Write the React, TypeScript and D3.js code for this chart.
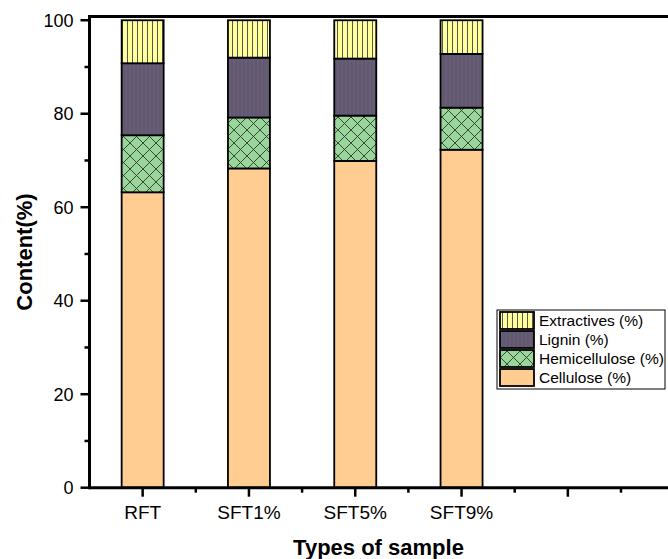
import React from "react";
import * as d3 from "d3";

const categories = ["RFT", "SFT1%", "SFT5%", "SFT9%"];
const slotCount = 6;
const cellulose = [63.2, 68.3, 69.9, 72.3];
const hemicellulose = [12.2, 10.9, 9.7, 9.0];
const lignin = [15.4, 12.8, 12.2, 11.5];
const extractives = [9.2, 8.0, 8.2, 7.2];
const seriesNames = ["Cellulose (%)", "Hemicellulose (%)", "Lignin (%)", "Extractives (%)"];
const yTicks = [0, 20, 40, 60, 80, 100];
const yMinor = [10, 30, 50, 70, 90];

const W = 668, H = 559;
const left = 89.5, top = 16.5, bottom = 487.7;
const slot = 106.3;
const font = "Arial, 'Liberation Sans', sans-serif";

export default function App() {
  const x = d3.scaleLinear().domain([0.5, slotCount + 0.5]).range([left, left + slotCount * slot]);
  const y = d3.scaleLinear().domain([0, 100.8]).range([bottom, top]);
  const barW = 42;
  const seriesData = [cellulose, hemicellulose, lignin, extractives];
  const fills = ["#FFCC92", "url(#hatchX)", "url(#lignPat)", "url(#extrPat)"];
  const table = categories.map((c, i) => {
    const o: any = { cat: c };
    seriesNames.forEach((s, j) => (o[s] = seriesData[j][i]));
    return o;
  });
  const stacked = d3.stack().keys(seriesNames)(table);
  const majorX = d3.range(1, slotCount + 1);
  const minorX = d3.range(1, slotCount).map((v) => v + 0.5);
  const legendOrder = [3, 2, 1, 0];
  const lgX = 497, lgY = 310, rowH = 19;

  return (
    <svg width={W} height={H} style={{ position: "absolute", left: 0, top: 0 }}>
      <defs>
        <pattern id="extrPat" patternUnits="userSpaceOnUse" width="5" height="10">
          <rect width="5" height="10" fill="#FFFF99" />
          <line x1="2.5" y1="0" x2="2.5" y2="10" stroke="#555" strokeWidth="1" />
        </pattern>
        <pattern id="lignPat" patternUnits="userSpaceOnUse" width="4" height="10">
          <rect width="4" height="10" fill="#625870" />
          <line x1="2" y1="0" x2="2" y2="10" stroke="#6C627A" strokeWidth="1" />
        </pattern>
        <pattern id="hatchX" patternUnits="userSpaceOnUse" width="13" height="13">
          <rect width="13" height="13" fill="#9AD69C" />
          <line x1="0" y1="0" x2="13" y2="13" stroke="#2a3a2a" strokeWidth="0.9" />
          <line x1="13" y1="0" x2="0" y2="13" stroke="#2a3a2a" strokeWidth="0.9" />
        </pattern>
      </defs>
      <rect width={W} height={H} fill="#fff" />
      {stacked.map((s, j) =>
        s.map((d, i) => (
          <rect
            key={`${j}-${i}`}
            x={x(i + 1) - barW / 2}
            y={y(d[1])}
            width={barW}
            height={y(d[0]) - y(d[1])}
            fill={fills[j]}
            stroke="#000"
            strokeWidth={1.8}
          />
        ))
      )}
      {/* axes */}
      <line x1={left} y1={top} x2={W + 5} y2={top} stroke="#000" strokeWidth={3} />
      <line x1={left} y1={top - 1.5} x2={left} y2={bottom + 1.5} stroke="#000" strokeWidth={3} />
      <line x1={left} y1={bottom} x2={W + 5} y2={bottom} stroke="#000" strokeWidth={3} />
      {yTicks.map((t) => (
        <g key={t}>
          <line x1={left - 9} x2={left} y1={y(t)} y2={y(t)} stroke="#000" strokeWidth={2.5} />
          <text x={left - 16} y={y(t)} dy="0.35em" textAnchor="end" fontFamily={font} fontSize={18}>
            {t}
          </text>
        </g>
      ))}
      {yMinor.map((t) => (
        <line key={t} x1={left - 5} x2={left} y1={y(t)} y2={y(t)} stroke="#000" strokeWidth={2.5} />
      ))}
      {majorX.map((k) => (
        <line key={k} x1={x(k)} x2={x(k)} y1={bottom} y2={bottom + 9} stroke="#000" strokeWidth={2.5} />
      ))}
      {minorX.map((k) => (
        <line key={k} x1={x(k)} x2={x(k)} y1={bottom} y2={bottom + 5} stroke="#000" strokeWidth={2.5} />
      ))}
      {categories.map((c, i) => (
        <text key={c} x={x(i + 1)} y={518.5} textAnchor="middle" fontFamily={font} fontSize={19}>
          {c}
        </text>
      ))}
      <text x={378.5} y={555} textAnchor="middle" fontFamily={font} fontSize={22} fontWeight="bold">
        Types of sample
      </text>
      <text
        transform={`translate(32,252) rotate(-90)`}
        textAnchor="middle"
        fontFamily={font}
        fontSize={22}
        fontWeight="bold"
      >
        Content(%)
      </text>
      {/* legend */}
      <rect x={lgX} y={lgY} width={168} height={rowH * 4 + 3} fill="#fff" stroke="#000" strokeWidth={1} />
      {legendOrder.map((j, r) => (
        <g key={j}>
          <rect
            x={lgX + 3}
            y={lgY + 2 + r * rowH}
            width={34}
            height={rowH - 2}
            fill={fills[j]}
            stroke="#000"
            strokeWidth={1.8}
          />
          <text
            x={lgX + 42}
            y={lgY + 2 + r * rowH + (rowH - 2) / 2}
            dy="0.35em"
            fontFamily={font}
            fontSize={15.5}
          >
            {seriesNames[j]}
          </text>
        </g>
      ))}
    </svg>
  );
}
